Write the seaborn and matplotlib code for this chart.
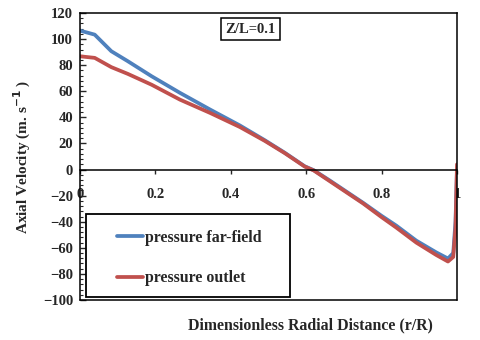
import matplotlib
matplotlib.use("Agg")
import matplotlib.pyplot as plt
from matplotlib.patches import Rectangle
from matplotlib.ticker import MultipleLocator
import seaborn as sns

# radial position (r/R) and axial velocity
r = [0, 0.039, 0.083, 0.127, 0.19, 0.265, 0.345, 0.424, 0.49, 0.543,
     0.596, 0.62, 0.663, 0.751, 0.8, 0.839, 0.892, 0.945, 0.976, 0.99,
     0.996, 1.0]
far_field = [106.5, 103.4, 90.7, 83, 71.5, 58.8, 46, 33.8, 22.5, 12.9,
             2.5, -0.5, -8.5, -25.5, -35.5, -43, -54.5, -63.5, -68.2, -64,
             -40, 0]
outlet = [86.8, 85.6, 78.5, 73.3, 65, 53.6, 43.4, 32.6, 22, 12.6,
          2.3, -0.7, -9, -26, -36.5, -44.5, -56, -65.5, -70.5, -67,
          -45, 4]

labels = ["pressure far-field", "pressure outlet"]
colors = ["#4F81BD", "#C0504D"]
xticks = [0, 0.2, 0.4, 0.6, 0.8, 1]
xticklabels = ["0", "0.2", "0.4", "0.6", "0.8", "1"]

sns.set_style("white")
plt.rcParams["font.family"] = ["Liberation Serif", "DejaVu Serif"]
plt.rcParams["font.weight"] = "bold"

fig = plt.figure(figsize=(4.8, 3.4), dpi=100)
ax = fig.add_axes([0.1667, 0.1176, 0.7854, 0.8442])

sns.lineplot(x=r, y=far_field, color=colors[0], lw=2.7, label=labels[0], ax=ax)
sns.lineplot(x=r, y=outlet, color=colors[1], lw=2.7, label=labels[1], ax=ax)

ax.set_xlim(0, 1)
ax.set_ylim(-100, 120)
ax.yaxis.set_major_locator(MultipleLocator(20))
ax.yaxis.set_minor_locator(MultipleLocator(4))
ax.set_xticks(xticks)
ax.set_xticklabels(xticklabels)

# x axis sits on the zero line, frame closed at the bottom
ax.spines["bottom"].set_position(("data", 0))
for s in ax.spines.values():
    s.set_color("black")
    s.set_linewidth(1.1)
ax.axhline(-100, color="black", lw=1.1, clip_on=False)

ax.tick_params(axis="y", which="major", direction="in", length=4, width=1,
               labelsize=10.5, pad=5, left=True)
ax.tick_params(axis="y", which="minor", direction="in", length=2.5, width=0.8,
               left=True)
ax.tick_params(axis="x", which="major", direction="out", length=3, width=1,
               labelsize=10.5, pad=10, bottom=True)
for t in ax.get_xticklabels() + ax.get_yticklabels():
    t.set_fontweight("bold")

ax.set_ylabel("Axial Velocity (m. s$^{\\mathbf{-1}}$ )", fontsize=11,
              fontweight="bold", labelpad=7)
fig.text(0.646, 0.044, "Dimensionless Radial Distance (r/R)", fontsize=11.4,
         fontweight="bold", ha="center", va="center")

ax.text(0.451, 0.944, "Z/L=0.1", transform=ax.transAxes, fontsize=10.5,
        fontweight="bold", ha="center", va="center",
        bbox=dict(boxstyle="square,pad=0.3", fc="white", ec="black", lw=1.1))

# legend box drawn on its own, entries placed inside it
ax.add_patch(Rectangle((0.016, 0.01), 0.541, 0.29, transform=ax.transAxes,
                       fc="white", ec="black", lw=1.3, zorder=4))
leg = ax.legend(loc="upper left", bbox_to_anchor=(0.098, 0.245),
                frameon=False, fontsize=11.4, handlelength=1.65,
                handletextpad=0.1, labelspacing=1.55, borderpad=0,
                borderaxespad=0)
leg.set_zorder(5)
for t in leg.get_texts():
    t.set_fontweight("bold")

plt.savefig("out.png", dpi=100)
plt.close()
